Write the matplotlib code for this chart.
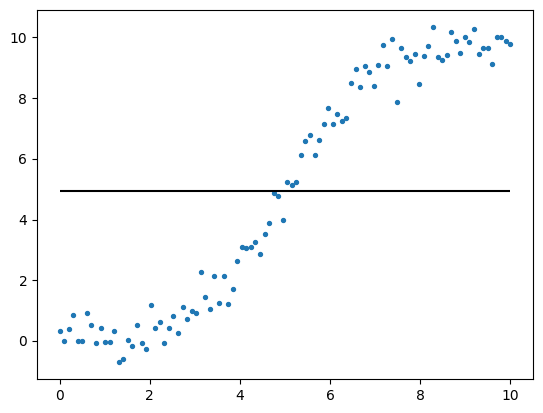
import numpy as np
import matplotlib
matplotlib.use("Agg")
import matplotlib.pyplot as plt

# scatter values (100 points over 0..10)
x = np.linspace(0, 10, 100)
y = np.array([
    0.32, 0.00, 0.38, 0.85, 0.00, 0.00, 0.91, 0.52, -0.08, 0.42,
    -0.04, -0.04, 0.32, -0.70, -0.60, 0.02, -0.17, 0.52, -0.08, -0.27,
    1.20, 0.42, 0.62, -0.08, 0.42, 0.81, 0.25, 1.11, 0.71, 0.98,
    0.91, 2.26, 1.44, 1.04, 2.13, 1.24, 2.13, 1.21, 1.70, 2.65,
    3.11, 3.05, 3.11, 3.25, 2.88, 3.51, 3.87, 4.89, 4.76, 3.97,
    5.25, 5.15, 5.25, 6.14, 6.60, 6.80, 6.14, 6.63, 7.16, 7.69,
    7.16, 7.49, 7.23, 7.33, 8.51, 8.95, 8.35, 9.05, 8.85, 8.41,
    9.10, 9.75, 9.05, 9.95, 7.88, 9.66, 9.37, 9.23, 9.46, 8.48,
    9.40, 9.73, 10.35, 9.37, 9.27, 9.43, 10.19, 9.89, 9.50, 10.02,
    9.86, 10.29, 9.46, 9.66, 9.66, 9.13, 10.02, 10.02, 9.89, 9.79,
])
line_y = 4.94

fig, ax = plt.subplots(figsize=(5.43, 4.13), dpi=100)
fig.subplots_adjust(left=37/543, right=533/543, top=1-10/413, bottom=1-379/413)

ax.scatter(x, y, s=8)
ax.hlines(line_y, x[0], x[-1], color='black')

fig.savefig("out.png", dpi=100)
